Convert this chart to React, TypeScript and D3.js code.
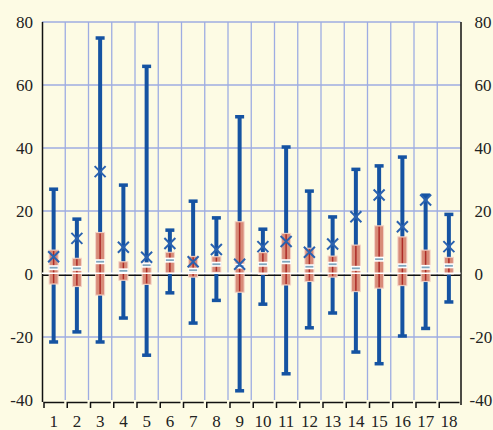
import * as d3 from "d3";
import React, { useEffect, useRef } from "react";

// values
const categories = ["1", "2", "3", "4", "5", "6", "7", "8", "9", "10", "11", "12", "13", "14", "15", "16", "17", "18"];
const maxValues = [27, 17.5, 75, 28.3, 66, 14, 23.2, 17.9, 50, 14.3, 40.4, 26.4, 18.2, 33.3, 34.4, 37.2, 25.1, 19];
const minValues = [-21.5, -18.3, -21.5, -13.9, -25.7, -5.9, -15.5, -8.3, -37, -9.5, -31.6, -17, -12.3, -24.7, -28.4, -19.6, -17.2, -8.8];
const boxHigh = [7.6, 5, 13.2, 3.9, 3.5, 6.9, 5.6, 5.5, 16.6, 6.8, 12.9, 8.2, 5.7, 9.2, 15.3, 11.8, 7.6, 5.3];
const boxLow = [-3.2, -4, -6.7, -2, -3.3, 0.2, -1, 0.5, -5.8, -0.1, -3.5, -2.4, -1, -5.6, -4.5, -3.7, -2.4, 0];
const medians = [2, 1.8, 3.9, 1, 2.8, 4.4, 1.2, 3.1, 2.5, 3.1, 3.9, 2.3, 3.1, 1.8, 4.7, 2.6, 2.1, 2.6];
const means = [5.5, 11.3, 32.5, 8.5, 5.3, 9.7, 3.9, 7.8, 3.1, 8.7, 10.3, 6.9, 9.5, 18.2, 25.1, 15, 23.5, 8.7];
const yTicks = [-40, -20, 0, 20, 40, 60, 80];

const width = 493;
const height = 430;

const App: React.FC = () => {
  const ref = useRef<SVGSVGElement>(null);

  useEffect(() => {
    const svg = d3.select(ref.current);
    svg.selectAll("*").remove();

    const left = 42;
    const right = 460.5;
    const top = 22;
    const bottom = 400;

    const x = d3.scaleBand().domain(categories).range([left, right]).padding(0);
    const y = d3.scaleLinear().domain([-40, 80]).range([bottom, top]);
    const bw = x.bandwidth();
    const cx = (i: number) => (x(categories[i]) as number) + bw / 2;
    const font = "'Liberation Serif', 'Times New Roman', serif";

    svg.append("rect").attr("width", width).attr("height", height).attr("fill", "#fdfbe4");

    // grid
    const grid = svg.append("g").attr("stroke", "#9eace2").attr("stroke-width", 1.3);
    yTicks
      .filter((t) => t !== 0 && t !== -40)
      .forEach((t) => {
        grid.append("line").attr("x1", left).attr("x2", right).attr("y1", y(t)).attr("y2", y(t));
      });
    categories.slice(1).forEach((c) => {
      grid
        .append("line")
        .attr("x1", x(c) as number)
        .attr("x2", x(c) as number)
        .attr("y1", top)
        .attr("y2", bottom);
    });

    // axes
    svg
      .append("line")
      .attr("x1", left + 0.5)
      .attr("x2", left + 0.5)
      .attr("y1", top)
      .attr("y2", bottom + 2)
      .attr("stroke", "#111")
      .attr("stroke-width", 1.5);
    svg
      .append("line")
      .attr("x1", right + 0.5)
      .attr("x2", right + 0.5)
      .attr("y1", top)
      .attr("y2", bottom + 5)
      .attr("stroke", "#111")
      .attr("stroke-width", 1.5);

    // bracket style x axis
    svg
      .append("g")
      .selectAll("path")
      .data(categories)
      .join("path")
      .attr("d", (c) => {
        const x0 = x(c) as number;
        return `M${x0 + 2},${bottom + 8}V${bottom + 2.5}H${x0 + bw - 1}`;
      })
      .attr("fill", "none")
      .attr("stroke", "#111")
      .attr("stroke-width", 1.5);

    // zero line (black under the boxes)
    svg
      .append("line")
      .attr("x1", left)
      .attr("x2", right)
      .attr("y1", y(0) + 1.2)
      .attr("y2", y(0) + 1.2)
      .attr("stroke", "#111")
      .attr("stroke-width", 1.5);

    // whiskers
    const blue = "#1553a2";
    const wh = svg.append("g");
    categories.forEach((_, i) => {
      wh.append("line")
        .attr("x1", cx(i))
        .attr("x2", cx(i))
        .attr("y1", y(maxValues[i]))
        .attr("y2", y(minValues[i]))
        .attr("stroke", blue)
        .attr("stroke-width", 4);
      [maxValues[i], minValues[i]].forEach((v) => {
        wh.append("rect")
          .attr("x", cx(i) - 4.5)
          .attr("y", y(v) - 1.5)
          .attr("width", 9)
          .attr("height", 3.5)
          .attr("fill", blue);
      });
    });

    // boxes
    const bx = svg.append("g");
    const boxW = 9;
    categories.forEach((_, i) => {
      bx.append("rect")
        .attr("x", cx(i) - boxW / 2)
        .attr("y", y(boxHigh[i]))
        .attr("width", boxW)
        .attr("height", y(boxLow[i]) - y(boxHigh[i]))
        .attr("fill", "#d88b78")
        .attr("stroke", "#f3d3c8")
        .attr("stroke-width", 1);
      bx.append("line")
        .attr("x1", cx(i))
        .attr("x2", cx(i))
        .attr("y1", y(boxHigh[i]) + 1)
        .attr("y2", y(boxLow[i]) - 1)
        .attr("stroke", "#ad2b26")
        .attr("stroke-width", 1.5);
    });

    // white zero line on top of the boxes
    svg
      .append("line")
      .attr("x1", left)
      .attr("x2", right)
      .attr("y1", y(0) - 0.8)
      .attr("y2", y(0) - 0.8)
      .attr("stroke", "#ffffff")
      .attr("stroke-width", 1.6);

    // medians
    const md = svg.append("g");
    categories.forEach((_, i) => {
      md.append("rect")
        .attr("x", cx(i) - boxW / 2 - 0.5)
        .attr("y", y(medians[i]) - 2.5)
        .attr("width", boxW + 1)
        .attr("height", 5)
        .attr("fill", "#ffffff");
      md.append("line")
        .attr("x1", cx(i) - boxW / 2 + 0.5)
        .attr("x2", cx(i) + boxW / 2 - 0.5)
        .attr("y1", y(medians[i]))
        .attr("y2", y(medians[i]))
        .attr("stroke", "#7fa6bd")
        .attr("stroke-width", 1.8);
    });

    // means (x markers)
    const mk = svg.append("g").attr("stroke", "#2a62b0").attr("stroke-width", 2);
    categories.forEach((_, i) => {
      const s = 5.5;
      const px = cx(i);
      const py = y(means[i]);
      mk.append("path").attr("d", `M${px - s},${py - s}L${px + s},${py + s}M${px - s},${py + s}L${px + s},${py - s}`);
    });

    // labels
    const lab = svg.append("g").attr("font-family", font).attr("font-size", 17).attr("fill", "#222");
    yTicks.forEach((t) => {
      lab.append("text").attr("x", left - 9).attr("y", y(t)).attr("dy", "0.35em").attr("text-anchor", "end").text(t);
      lab.append("text")
        .attr("x", t < 0 ? right + 9 : right + 14)
        .attr("y", y(t))
        .attr("dy", "0.35em")
        .attr("text-anchor", "start")
        .text(t);
    });
    categories.forEach((c, i) => {
      lab.append("text").attr("x", cx(i)).attr("y", 427).attr("text-anchor", "middle").text(c);
    });
  }, []);

  return (
    <svg
      ref={ref}
      width={width}
      height={height}
      style={{ position: "absolute", left: 0, top: 0, display: "block" }}
    ></svg>
  );
};

export default App;
